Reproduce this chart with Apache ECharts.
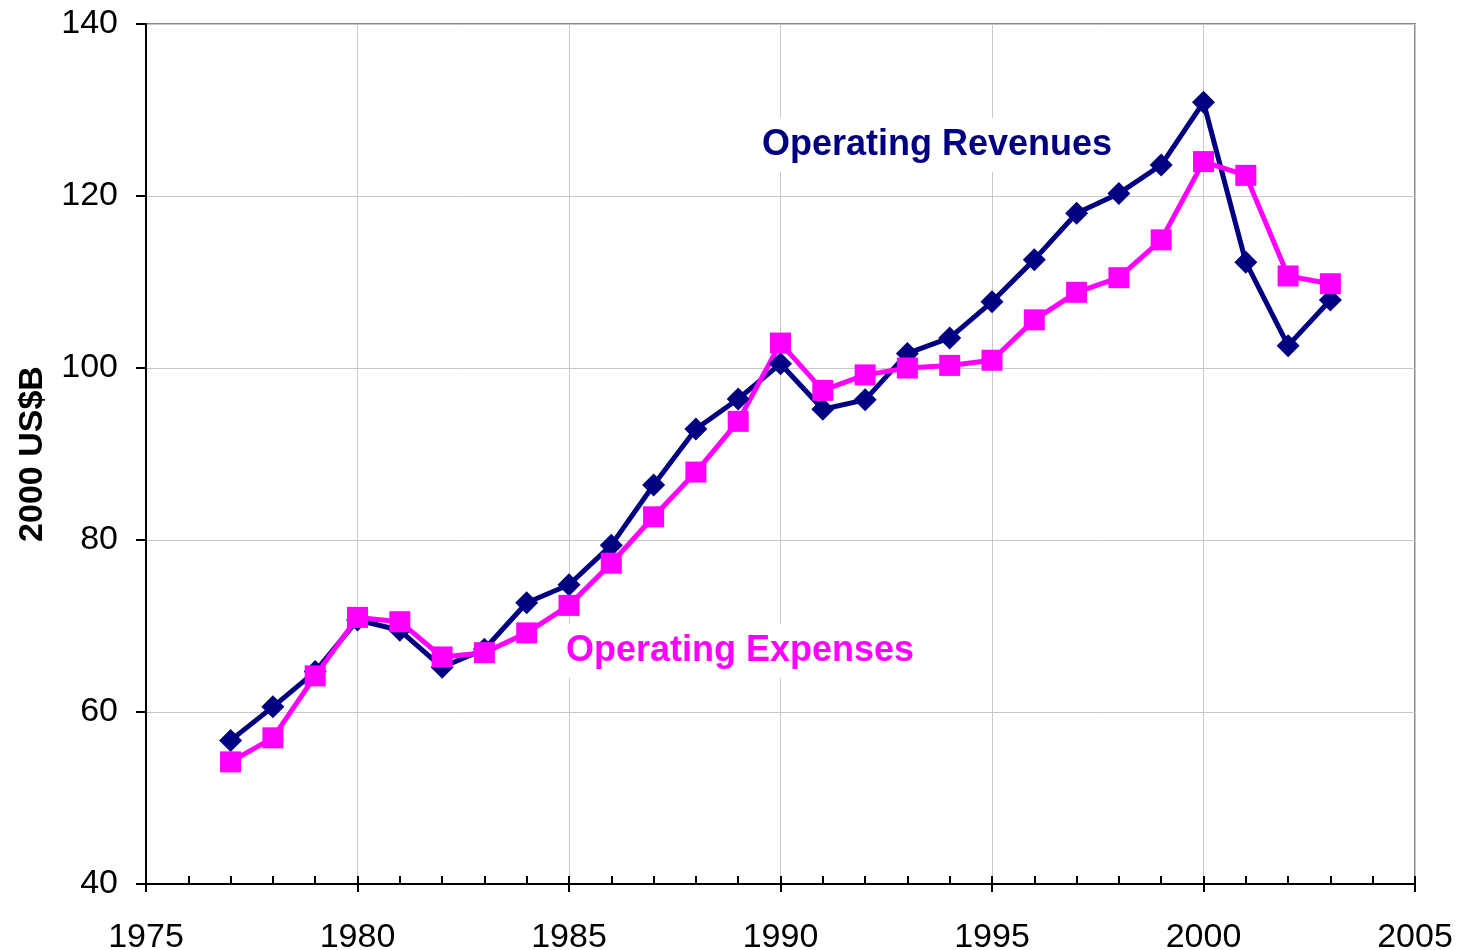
<!DOCTYPE html>
<html>
<head>
<meta charset="utf-8">
<script src="https://cdn.jsdelivr.net/npm/echarts@6/dist/echarts.min.js"></script>
<style>
  html, body { margin: 0; padding: 0; background: #fff; }
  #chart { width: 1464px; height: 950px; }
</style>
</head>
<body>
<div id="chart"></div>
<script>
const years = [1977, 1978, 1979, 1980, 1981, 1982, 1983, 1984, 1985, 1986, 1987, 1988, 1989, 1990,
  1991, 1992, 1993, 1994, 1995, 1996, 1997, 1998, 1999, 2000, 2001, 2002, 2003]
const revenues = [56.7, 60.6, 64.7, 70.7, 69.5, 65.2, 67.3, 72.7, 74.8, 79.4, 86.4, 92.9, 96.4, 100.5,
  95.2, 96.3, 101.7, 103.5, 107.7, 112.6, 118.0, 120.3, 123.6, 130.9, 112.3, 102.6, 107.9]
const expenses = [54.2, 57.0, 64.2, 71.0, 70.5, 66.4, 66.9, 69.2, 72.4, 77.3, 82.7, 87.9, 93.8, 102.9,
  97.4, 99.2, 100.0, 100.3, 100.9, 105.6, 108.8, 110.5, 114.9, 124.0, 122.4, 110.7, 109.8]

const font = 'Liberation Sans, Arial, sans-serif'

const chart = echarts.init(document.getElementById('chart'))

chart.setOption({
  animation: false,
  backgroundColor: '#fff',
  grid: {
    left: 146,
    right: 49,
    top: 24,
    bottom: 66,
    outerBoundsMode: 'none',
    containLabel: false,
    show: true,
    borderColor: '#888',
    borderWidth: 2
  },
  xAxis: [{
    type: 'value',
    min: 1975,
    max: 2005,
    interval: 5,
    axisLine: { lineStyle: { color: '#000', width: 2 } },
    axisTick: { length: 8, lineStyle: { color: '#000', width: 2 } },
    axisLabel: { color: '#000', fontSize: 34, fontFamily: font, margin: 37, formatter: v => String(v) },
    splitLine: { lineStyle: { color: '#c8c8c8', width: 1 } }
  }, {
    // minor year ticks pointing inward
    type: 'value',
    position: 'bottom',
    min: 1975,
    max: 2005,
    interval: 1,
    axisLine: { show: false },
    axisTick: { inside: true, length: 8, lineStyle: { color: '#000', width: 2 } },
    axisLabel: { show: false },
    splitLine: { show: false }
  }],
  yAxis: {
    type: 'value',
    min: 40,
    max: 140,
    interval: 20,
    name: '2000 US$B',
    nameLocation: 'middle',
    nameGap: 96,
    nameTextStyle: { color: '#000', fontSize: 34, fontWeight: 'bold', fontFamily: font },
    axisLine: { show: true, lineStyle: { color: '#000', width: 2 } },
    axisTick: { show: true, length: 10, lineStyle: { color: '#000', width: 2 } },
    axisLabel: { color: '#000', fontSize: 34, fontFamily: font, margin: 28 },
    splitLine: { lineStyle: { color: '#c8c8c8', width: 1 } }
  },
  graphic: [{
    type: 'text',
    left: 758,
    top: 118,
    z: 1,
    style: {
      text: 'Operating Revenues', fill: '#000080', font: 'bold 36px ' + font,
      backgroundColor: '#fff', padding: [9, 4]
    }
  }, {
    type: 'text',
    left: 562,
    top: 624,
    z: 1,
    style: {
      text: 'Operating Expenses', fill: '#ff00ff', font: 'bold 36px ' + font,
      backgroundColor: '#fff', padding: [9, 4]
    }
  }],
  series: [{
    name: 'Operating Revenues',
    type: 'line',
    z: 3,
    data: years.map((y, i) => [y, revenues[i]]),
    symbol: 'diamond',
    symbolSize: 23,
    itemStyle: { color: '#000080' },
    lineStyle: { color: '#000080', width: 5 }
  }, {
    name: 'Operating Expenses',
    type: 'line',
    z: 3,
    data: years.map((y, i) => [y, expenses[i]]),
    symbol: 'rect',
    symbolSize: 21,
    itemStyle: { color: '#ff00ff' },
    lineStyle: { color: '#ff00ff', width: 5 }
  }]
})
</script>
</body>
</html>
